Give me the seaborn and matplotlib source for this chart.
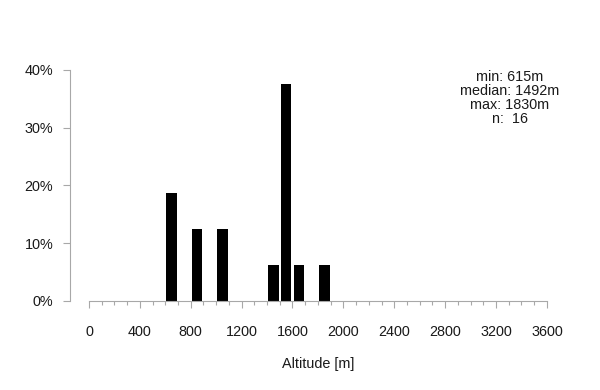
import numpy as np
import pandas as pd
import seaborn as sns
import matplotlib.pyplot as plt
from matplotlib.ticker import PercentFormatter, FixedLocator

# altitude histogram, 100 m bins (bin start -> number of sites)
bin_starts = [600, 800, 1000, 1400, 1500, 1600, 1800]
counts = [3, 2, 2, 1, 6, 1, 1]
stats_lines = ["min: 615m", "median: 1492m", "max: 1830m", "n:  16"]

sns.set_style("ticks")
plt.rcParams["font.family"] = ["Liberation Sans", "DejaVu Sans"]
plt.rcParams["font.size"] = 10.4

df = pd.DataFrame({"altitude": bin_starts, "count": counts})

fig = plt.figure(figsize=(6, 3.9), dpi=100)
ax = fig.add_axes([70 / 600, 80 / 390, 490 / 600, 250 / 390])

sns.histplot(data=df, x="altitude", weights="count", binwidth=100, binrange=(0, 3600),
             stat="probability", shrink=0.82, color="black", alpha=1,
             linewidth=0, ax=ax)

ax.set_xlim(-149, 3703)
ax.set_ylim(-0.0156, 0.4173)

grey = "#a8a8a8"
for side in ["top", "right"]:
    ax.spines[side].set_visible(False)
ax.spines["bottom"].set_position(("data", 0))
ax.spines["bottom"].set_bounds(0, 3600)
ax.spines["left"].set_bounds(0, 0.4)
for side in ["bottom", "left"]:
    ax.spines[side].set_color(grey)
    ax.spines[side].set_linewidth(0.8)

ax.xaxis.set_major_locator(FixedLocator(np.arange(0, 3601, 400)))
ax.xaxis.set_minor_locator(FixedLocator(np.arange(0, 3601, 100)))
ax.set_yticks([0, 0.1, 0.2, 0.3, 0.4])
ax.yaxis.set_major_formatter(PercentFormatter(1.0, decimals=0))
ax.tick_params(axis="both", which="major", length=5, width=0.8, color=grey,
               labelsize=10.4, labelcolor="#1a1a1a")
ax.tick_params(axis="x", which="major", pad=12)
ax.tick_params(axis="y", which="major", pad=7)
ax.tick_params(axis="x", which="minor", length=3, width=0.8, color=grey)

ax.set_ylabel("")
ax.set_xlabel("Altitude [m]", fontsize=10.4, color="#1a1a1a")
ax.xaxis.set_label_coords(0.506, -0.188)

ax.text(510 / 600, 1 - 70 / 390, "\n".join(stats_lines), transform=fig.transFigure,
        ha="center", va="top", multialignment="center", linespacing=1.0,
        fontsize=10.4, color="#1a1a1a")

fig.savefig("out.png", dpi=100)
